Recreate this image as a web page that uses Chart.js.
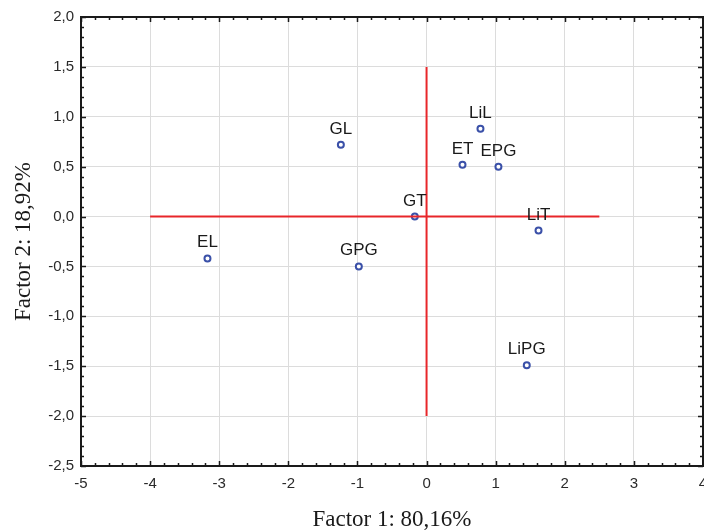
<!DOCTYPE html>
<html>
<head>
<meta charset="utf-8">
<script src="https://cdn.jsdelivr.net/npm/chart.js@4.4.1/dist/chart.umd.min.js"></script>
<style>
  html, body { margin: 0; padding: 0; background: #fff; }
  #wrap { width: 704px; height: 530px; }
</style>
</head>
<body>
<div id="wrap"><canvas id="pcaChart"></canvas></div>
<script>
// factor scores
const pointNames = ['GL', 'LiL', 'ET', 'EPG', 'GT', 'LiT', 'EL', 'GPG', 'LiPG'];
const factor1 = [-1.24, 0.78, 0.52, 1.04, -0.17, 1.62, -3.17, -0.98, 1.45];
const factor2 = [0.72, 0.88, 0.52, 0.50, 0.00, -0.14, -0.42, -0.50, -1.49];

// red cross lines
const hLineX = [-4, 2.5];
const hLineY = [0, 0];
const vLineX = [0, 0];
const vLineY = [-2, 1.5];

const xTitle = 'Factor 1: 80,16%';
const yTitle = 'Factor 2: 18,92%';

// labels above each point
const pointLabels = {
  id: 'pointLabels',
  afterDatasetsDraw(chart) {
    const ctx = chart.ctx;
    const meta = chart.getDatasetMeta(2);
    ctx.save();
    ctx.font = '17px "Liberation Sans", Arial, sans-serif';
    ctx.fillStyle = '#1a1a1a';
    ctx.textAlign = 'center';
    ctx.textBaseline = 'alphabetic';
    meta.data.forEach((el, i) => {
      ctx.fillText(pointNames[i], el.x, el.y - 11);
    });
    ctx.restore();
  }
};

// black frame with inward ticks on all four sides
const frameTicks = {
  id: 'frameTicks',
  afterDraw(chart) {
    const ctx = chart.ctx;
    const a = chart.chartArea;
    const xs = chart.scales.x, ys = chart.scales.y;
    ctx.save();
    ctx.strokeStyle = '#1a1a1a';
    ctx.lineWidth = 1.5;
    ctx.beginPath();
    for (let v = -5; v <= 4.0001; v += 0.2) {
      const px = Math.round(xs.getPixelForValue(v)) + 0.5;
      const major = Math.abs(v - Math.round(v)) < 0.01;
      const len = major ? 5 : 3;
      ctx.moveTo(px, a.bottom); ctx.lineTo(px, a.bottom - len);
      ctx.moveTo(px, a.top); ctx.lineTo(px, a.top + len);
    }
    for (let v = -2.5; v <= 2.0001; v += 0.1) {
      const py = Math.round(ys.getPixelForValue(v)) + 0.5;
      const major = Math.abs(v * 2 - Math.round(v * 2)) < 0.01;
      const len = major ? 5 : 3;
      ctx.moveTo(a.left, py); ctx.lineTo(a.left + len, py);
      ctx.moveTo(a.right, py); ctx.lineTo(a.right - len, py);
    }
    ctx.stroke();
    ctx.lineWidth = 2;
    ctx.strokeRect(a.left, a.top, a.right - a.left, a.bottom - a.top);
    ctx.restore();
  }
};

new Chart(document.getElementById('pcaChart'), {
  type: 'scatter',
  data: {
    datasets: [
      {
        type: 'line',
        data: hLineX.map((x, i) => ({ x: x, y: hLineY[i] })),
        borderColor: '#e8262a',
        borderWidth: 2,
        pointRadius: 0,
        fill: false
      },
      {
        type: 'line',
        data: vLineX.map((x, i) => ({ x: x, y: vLineY[i] })),
        borderColor: '#e8262a',
        borderWidth: 2,
        pointRadius: 0,
        fill: false
      },
      {
        data: factor1.map((x, i) => ({ x: x, y: factor2[i] })),
        pointRadius: 3,
        pointBorderWidth: 2,
        pointBackgroundColor: '#ffffff',
        pointBorderColor: '#3a50a8'
      }
    ]
  },
  options: {
    responsive: true,
    maintainAspectRatio: false,
    animation: false,
    layout: { autoPadding: false, padding: { left: 0, top: 17, right: 1, bottom: 0 } },
    plugins: {
      legend: { display: false },
      tooltip: { enabled: false }
    },
    scales: {
      x: {
        type: 'linear',
        min: -5,
        max: 4,
        afterFit(scale) {
          scale.height = 64;
          scale.paddingRight = 0;
          scale.paddingLeft = 0;
        },
        grid: { color: '#dcdcdc', lineWidth: 1, drawTicks: false },
        border: { display: false },
        ticks: {
          stepSize: 1,
          padding: 9,
          color: '#2a2a2a',
          font: { family: '"Liberation Sans", Arial, sans-serif', size: 15 }
        },
        title: {
          display: true,
          text: xTitle,
          color: '#1a1a1a',
          font: { family: '"Liberation Serif", "Times New Roman", serif', size: 23, lineHeight: 1 },
          padding: { top: 0, bottom: -1 }
        }
      },
      y: {
        type: 'linear',
        min: -2.5,
        max: 2,
        afterFit(scale) { scale.width = 81; },
        grid: { color: '#dcdcdc', lineWidth: 1, drawTicks: false },
        border: { display: false },
        ticks: {
          stepSize: 0.5,
          padding: 7,
          color: '#2a2a2a',
          font: { family: '"Liberation Sans", Arial, sans-serif', size: 15 },
          callback: v => v.toFixed(1).replace('.', ',')
        },
        title: {
          display: true,
          text: yTitle,
          color: '#1a1a1a',
          font: { family: '"Liberation Serif", "Times New Roman", serif', size: 23, lineHeight: 1 },
          padding: { top: 12, bottom: 0 }
        }
      }
    }
  },
  plugins: [pointLabels, frameTicks]
});
</script>
</body>
</html>
